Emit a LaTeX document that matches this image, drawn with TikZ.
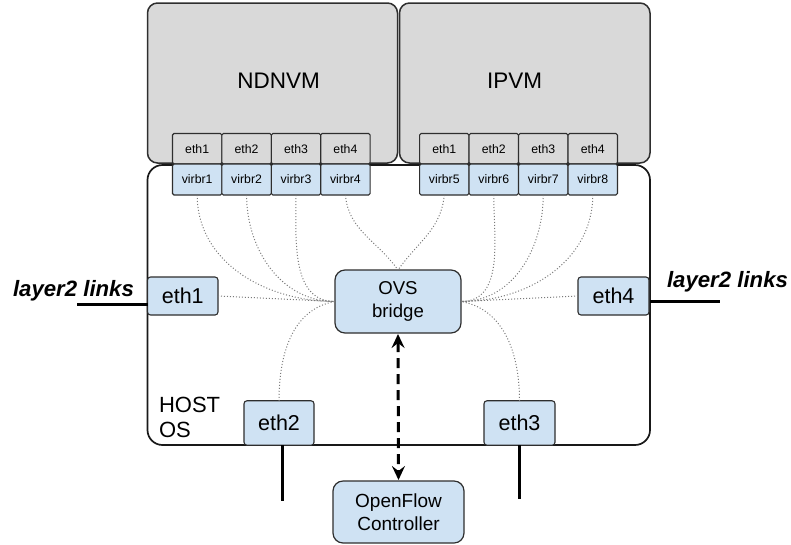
\documentclass[tikz,border=0pt]{standalone}
\usepackage{fontspec}
\setmainfont{Liberation Sans}
\usetikzlibrary{arrows.meta}
\definecolor{boxblue}{HTML}{CFE2F3}
\definecolor{vmgray}{HTML}{D9D9D9}
\definecolor{edge}{HTML}{2E2E2E}
\definecolor{wire}{HTML}{7A7A7A}

\begin{document}
\begin{tikzpicture}[x=1pt,y=-1pt,
  every node/.style={inner sep=0pt, outer sep=0pt},
  vmbox/.style={draw=edge, line width=1.5pt, fill=vmgray, rounded corners=10pt},
  hostbox/.style={draw=black!90, line width=1.7pt, fill=white, rounded corners=15pt},
  vmport/.style={draw=edge, line width=1.1pt, fill=vmgray, minimum width=49.4pt,
    minimum height=30.5pt, font=\fontsize{12.3}{14}\selectfont, rounded corners=1.5pt},
  tap/.style={vmport, fill=boxblue, minimum height=31pt},
  hostport/.style={draw=edge, line width=1.1pt, fill=boxblue, rounded corners=3pt,
    font=\fontsize{21.5}{24}\selectfont},
  core/.style={draw=edge, line width=1.2pt, fill=boxblue, rounded corners=10pt, align=center},
  link/.style={line width=3pt, black},
  wiring/.style={wire, line width=1pt, dash pattern=on 1pt off 2pt},
  ctrl/.style={line width=3pt, dash pattern=on 10pt off 6pt,
    {Stealth[length=14pt,width=13pt,inset=5pt]}-{Stealth[length=14pt,width=13pt,inset=5pt]}}
]
\useasboundingbox (0,0) rectangle (791,544);

% virtual machines
\node[vmbox, minimum width=250pt, minimum height=160pt] (ndn) at (272.5,83) {};
\node[vmbox, minimum width=250.5pt, minimum height=160pt] (ip) at (524.75,83) {};
\node[font=\fontsize{22.5}{26}\selectfont] (ndnname) at (278.7,81) {NDNVM};
\node[font=\fontsize{22.5}{26}\selectfont] (ipname) at (514.5,81) {IPVM};

% host
\node[hostbox, minimum width=502.5pt, minimum height=280pt] (host) at (398.75,305) {};
\node[anchor=north west, align=left, font=\fontsize{22}{25}\selectfont] (hostname) at (159,397) {HOST\\OS};

% guest interfaces and their taps
\foreach \i in {1,...,4} {
  \node[vmport] (ga\i) at ({172.5+49.4*(\i-0.5)},148.75) {eth\i};
  \node[tap] (v\i) at ({172.5+49.4*(\i-0.5)},179.5) {virbr\i};
}
\foreach \i [evaluate=\i as \k using int(\i+4)] in {1,...,4} {
  \node[vmport] (gb\i) at ({419.5+49.5*(\i-0.5)},148.75) {eth\i};
  \node[tap] (v\k) at ({419.5+49.5*(\i-0.5)},179.5) {virbr\k};
}

% host interfaces
\node[hostport, minimum width=70.5pt, minimum height=38pt] (eth1) at (182.75,296) {eth1};
\node[hostport, minimum width=71pt, minimum height=38pt] (eth4) at (613.5,296) {eth4};
\node[hostport, minimum width=70pt, minimum height=44.5pt] (eth2) at (279,423) {eth2};
\node[hostport, minimum width=71pt, minimum height=44.5pt] (eth3) at (519.5,423) {eth3};

% switch and controller
\node[core, minimum width=126pt, minimum height=63pt, font=\fontsize{18.6}{23.3}\selectfont] (ovs) at (398,301.5) {OVS\\bridge};
\node[core, minimum width=131pt, minimum height=62pt, font=\fontsize{19}{22.7}\selectfont] (ofc) at (398.5,512) {OpenFlow\\Controller};

% internal wiring to the bridge
\draw[wiring] (v1.south) to[out=-90,in=180] (ovs.west);
\draw[wiring] (v2.south) to[out=-90,in=180] (ovs.west);
\draw[wiring] (v3.south) to[out=-90,in=180] (ovs.west);
\draw[wiring] (v4.south) to[out=-85,in=125] (ovs.north);
\draw[wiring] (v5.south) to[out=-95,in=55] (ovs.north);
\draw[wiring] (v6.south) to[out=-90,in=0] (ovs.east);
\draw[wiring] (v7.south) to[out=-90,in=0] (ovs.east);
\draw[wiring] (v8.south) to[out=-90,in=0] (ovs.east);
\draw[wiring] (eth1.east) -- (ovs.west);
\draw[wiring] (eth4.west) -- (ovs.east);
\draw[wiring] (eth2.north) to[out=90,in=190] (ovs.west);
\draw[wiring] (eth3.north) to[out=90,in=-10] (ovs.east);

% external layer 2 links
\coordinate (l2w) at (77,304);
\coordinate (l2e) at (720,301);
\coordinate (e2d) at (282,501);
\coordinate (e3d) at (519,499);
\draw[link] (l2w) -- (l2w -| host.west);
\draw[link] (l2e -| host.east) -- (l2e);
\draw[link] (e2d |- eth2.south) -- (e2d);
\draw[link] (e3d |- eth3.south) -- (e3d);
\node[anchor=base west, font=\fontsize{22.2}{26}\selectfont\bfseries\itshape] (l2wtext) at (13,296) {layer2 links};
\node[anchor=base west, font=\fontsize{22.2}{26}\selectfont\bfseries\itshape] (l2etext) at (667,287) {layer2 links};

% control channel
\draw[ctrl] ([yshift=-1pt]ovs.south) -- ([yshift=1pt]ofc.north);
\end{tikzpicture}
\end{document}
